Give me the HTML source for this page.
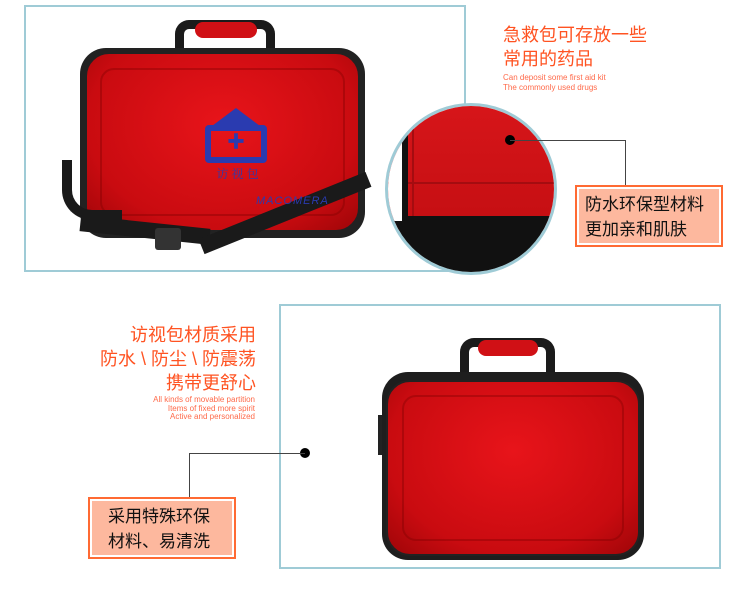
<!DOCTYPE html>
<html><head><meta charset="utf-8"><style>
body{margin:0;width:750px;height:601px;background:#fff;position:relative;overflow:hidden;font-family:"Liberation Sans","Noto Sans CJK SC",sans-serif}
div{position:absolute;box-sizing:border-box}
.or{color:#ff5322}
.cn{font-size:18px;line-height:24px;white-space:nowrap}
.en{font-size:8px;line-height:9.5px;color:#ff6a4a;white-space:nowrap}
.box{background:#fdb89e;border:2px solid #ff6a33;box-shadow:inset 0 0 0 2px #fff;font-size:17px;line-height:25px;color:#111;padding:5px 0 0 8px}
.red{background:radial-gradient(ellipse at 50% 40%,#e8141a,#c90b10 70%,#9e0508);border:3px solid #222}
</style></head><body>
<div style="left:24px;top:5px;width:442px;height:267px;border:2px solid #9fcbd6"></div>
<div style="left:175px;top:20px;width:100px;height:40px;border:9px solid #1b1b1b;border-bottom:none;border-radius:14px 14px 0 0"></div>
<div style="left:195px;top:22px;width:62px;height:16px;background:#d01015;border-radius:8px"></div>
<div style="left:80px;top:48px;width:285px;height:190px;background:#222;border-radius:26px"></div>
<div class="red" style="left:85px;top:52px;width:275px;height:180px;border-radius:24px;border-width:2px"></div>
<div style="left:100px;top:68px;width:245px;height:148px;border:2px solid rgba(120,0,0,.35);border-radius:14px"></div>
<div style="left:62px;top:160px;width:60px;height:60px;border:10px solid #1a1a1a;border-right:none;border-top:none;border-radius:0 0 0 30px"></div>
<div style="left:80px;top:222px;width:130px;height:16px;background:#1a1a1a;transform:rotate(6deg)"></div>
<div style="left:195px;top:205px;width:180px;height:16px;background:#1a1a1a;transform:rotate(-22deg)"></div>
<div style="left:155px;top:228px;width:26px;height:22px;background:#333;border-radius:3px"></div>
<div style="left:205px;top:125px;width:62px;height:38px;border:6px solid #2a3bb0;border-radius:4px"></div>
<div style="left:212px;top:108px;width:0;height:0;border-left:24px solid transparent;border-right:24px solid transparent;border-bottom:18px solid #2a3bb0"></div>
<div style="left:218px;top:131px;width:36px;height:22px;color:#2a3bb0;font-size:18px;text-align:center;line-height:22px">✚</div>
<div style="left:200px;top:165px;width:75px;color:#2a3bb0;font-size:12px;text-align:center;font-family:'Noto Serif CJK SC',serif">访 视 包</div>
<div style="left:256px;top:195px;color:#2a3bb0;font-size:11px;font-style:italic;letter-spacing:1px">MACOMERA</div>
<div style="left:385px;top:103px;width:172px;height:172px;border-radius:50%;border:3px solid #9fcbd6;overflow:hidden;background:#fff">
<div style="left:-10px;top:-10px;width:190px;height:135px;background:linear-gradient(180deg,#d8161a,#c40e12)"></div>
<div style="left:24px;top:-10px;width:2px;height:130px;background:#a50c10"></div>
<div style="left:-10px;top:76px;width:190px;height:2px;background:#a50c10"></div>
<div style="left:-10px;top:110px;width:190px;height:70px;background:#111;border-radius:30px 0 0 0"></div>
<div style="left:0;top:0;width:20px;height:115px;background:#fff;border-right:6px solid #111"></div>
</div>
<div style="left:505px;top:135px;width:10px;height:10px;border-radius:50%;background:#000"></div>
<div style="left:510px;top:140px;width:116px;height:46px;border-top:1px solid #444;border-right:1px solid #444"></div>
<div class="box" style="left:575px;top:185px;width:148px;height:62px">防水环保型材料<br>更加亲和肌肤</div>
<div class="cn or" style="left:503px;top:23px">急救包可存放一些<br>常用的药品</div>
<div class="en" style="left:503px;top:73px">Can deposit some first aid kit<br>The commonly used drugs</div>
<div style="left:279px;top:304px;width:442px;height:265px;border:2px solid #9fcbd6"></div>
<div style="left:460px;top:338px;width:95px;height:45px;border:9px solid #1b1b1b;border-bottom:none;border-radius:14px 14px 0 0"></div>
<div style="left:478px;top:340px;width:60px;height:16px;background:#d01015;border-radius:8px"></div>
<div style="left:378px;top:415px;width:10px;height:40px;background:#222"></div>
<div style="left:382px;top:372px;width:262px;height:188px;background:#1e1e1e;border-radius:26px"></div>
<div class="red" style="left:386px;top:380px;width:254px;height:176px;border-radius:24px;border-width:2px"></div>
<div style="left:402px;top:395px;width:222px;height:146px;border:2px solid rgba(120,0,0,.35);border-radius:14px"></div>
<div style="left:300px;top:448px;width:10px;height:10px;border-radius:50%;background:#000"></div>
<div style="left:189px;top:453px;width:116px;height:45px;border-top:1px solid #444;border-left:1px solid #444"></div>
<div class="box" style="left:88px;top:497px;width:148px;height:62px;padding-left:18px">采用特殊环保<br>材料、易清洗</div>
<div class="cn or" style="left:60px;top:323px;width:196px;text-align:right">访视包材质采用<br>防水 \ 防尘 \ 防震荡<br>携带更舒心</div>
<div class="en" style="left:100px;top:396px;width:155px;text-align:right;line-height:8.7px">All kinds of movable partition<br>Items of fixed more spirit<br>Active and personalized</div>
</body></html>
